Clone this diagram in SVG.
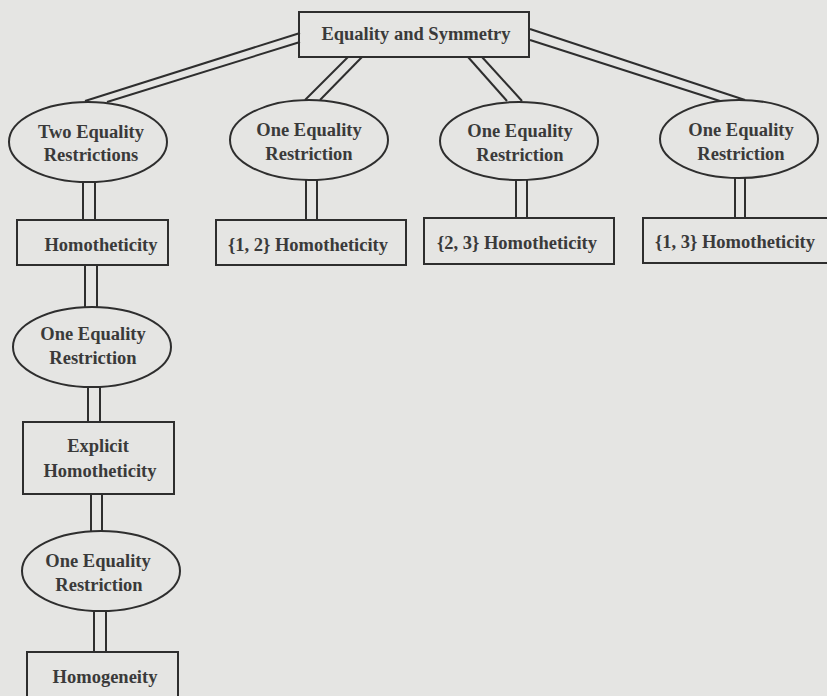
<svg xmlns="http://www.w3.org/2000/svg" width="827" height="696" viewBox="0 0 827 696">
<style>
.n rect, .n ellipse { fill: none; stroke: #2e2e2e; stroke-width: 2; }
.n text { font-family: "Liberation Serif", "Times New Roman", serif; font-weight: bold; font-size: 18.5px; fill: #3a3a3a; text-anchor: middle; }
#connectors line { stroke: #2e2e2e; stroke-width: 2; }
</style>
<rect x="0" y="0" width="827" height="696" fill="#e5e5e3"/>
<g id="connectors">
  <line x1="300" y1="33" x2="85" y2="101"/>
  <line x1="300" y1="42" x2="107" y2="102"/>
  <line x1="348" y1="57" x2="305" y2="100"/>
  <line x1="362" y1="57" x2="320" y2="100"/>
  <line x1="468" y1="57" x2="507" y2="101"/>
  <line x1="482" y1="57" x2="522" y2="101"/>
  <line x1="530" y1="29" x2="745" y2="100"/>
  <line x1="530" y1="40" x2="720" y2="101"/>
  <line x1="83" y1="182" x2="83" y2="220"/>
  <line x1="95" y1="182" x2="95" y2="220"/>
  <line x1="306" y1="180" x2="306" y2="220"/>
  <line x1="317" y1="180" x2="317" y2="220"/>
  <line x1="516" y1="180" x2="516" y2="218"/>
  <line x1="527" y1="180" x2="527" y2="218"/>
  <line x1="735" y1="178" x2="735" y2="218"/>
  <line x1="745" y1="178" x2="745" y2="218"/>
  <line x1="85" y1="265" x2="85" y2="308"/>
  <line x1="97" y1="265" x2="97" y2="308"/>
  <line x1="88" y1="387" x2="88" y2="422"/>
  <line x1="100" y1="387" x2="100" y2="422"/>
  <line x1="91" y1="494" x2="91" y2="532"/>
  <line x1="102" y1="494" x2="102" y2="532"/>
  <line x1="94" y1="611" x2="94" y2="653"/>
  <line x1="106" y1="611" x2="106" y2="653"/>
</g>
<g id="root" class="n">
  <rect x="299" y="12" width="230" height="45"/>
  <text x="416" y="40">Equality and Symmetry</text>
</g>
<g id="e1" class="n">
  <ellipse cx="88" cy="142" rx="79" ry="40"/>
  <text x="91" y="138">Two Equality</text>
  <text x="91" y="161">Restrictions</text>
</g>
<g id="e2" class="n">
  <ellipse cx="309" cy="140" rx="79" ry="40"/>
  <text x="309" y="136">One Equality</text>
  <text x="309" y="160">Restriction</text>
</g>
<g id="e3" class="n">
  <ellipse cx="519" cy="141" rx="79" ry="39"/>
  <text x="520" y="137">One Equality</text>
  <text x="520" y="161">Restriction</text>
</g>
<g id="e4" class="n">
  <ellipse cx="739" cy="139" rx="79" ry="39"/>
  <text x="741" y="136">One Equality</text>
  <text x="741" y="160">Restriction</text>
</g>
<g id="b1" class="n">
  <rect x="17" y="220" width="151" height="45"/>
  <text x="101" y="251">Homotheticity</text>
</g>
<g id="b2" class="n">
  <rect x="216" y="220" width="190" height="45"/>
  <text x="308" y="251">{1, 2} Homotheticity</text>
</g>
<g id="b3" class="n">
  <rect x="424" y="218" width="190" height="46"/>
  <text x="517" y="249">{2, 3} Homotheticity</text>
</g>
<g id="b4" class="n">
  <rect x="643" y="218" width="200" height="45"/>
  <text x="735" y="248">{1, 3} Homotheticity</text>
</g>
<g id="e5" class="n">
  <ellipse cx="92" cy="347" rx="79" ry="40"/>
  <text x="93" y="340">One Equality</text>
  <text x="93" y="364">Restriction</text>
</g>
<g id="b5" class="n">
  <rect x="23" y="422" width="151" height="72"/>
  <text x="98" y="452">Explicit</text>
  <text x="100" y="477">Homotheticity</text>
</g>
<g id="e6" class="n">
  <ellipse cx="101" cy="571" rx="79" ry="40"/>
  <text x="98" y="567">One Equality</text>
  <text x="99" y="591">Restriction</text>
</g>
<g id="b6" class="n">
  <rect x="27" y="652" width="151" height="60"/>
  <text x="105" y="683">Homogeneity</text>
</g>
</svg>
